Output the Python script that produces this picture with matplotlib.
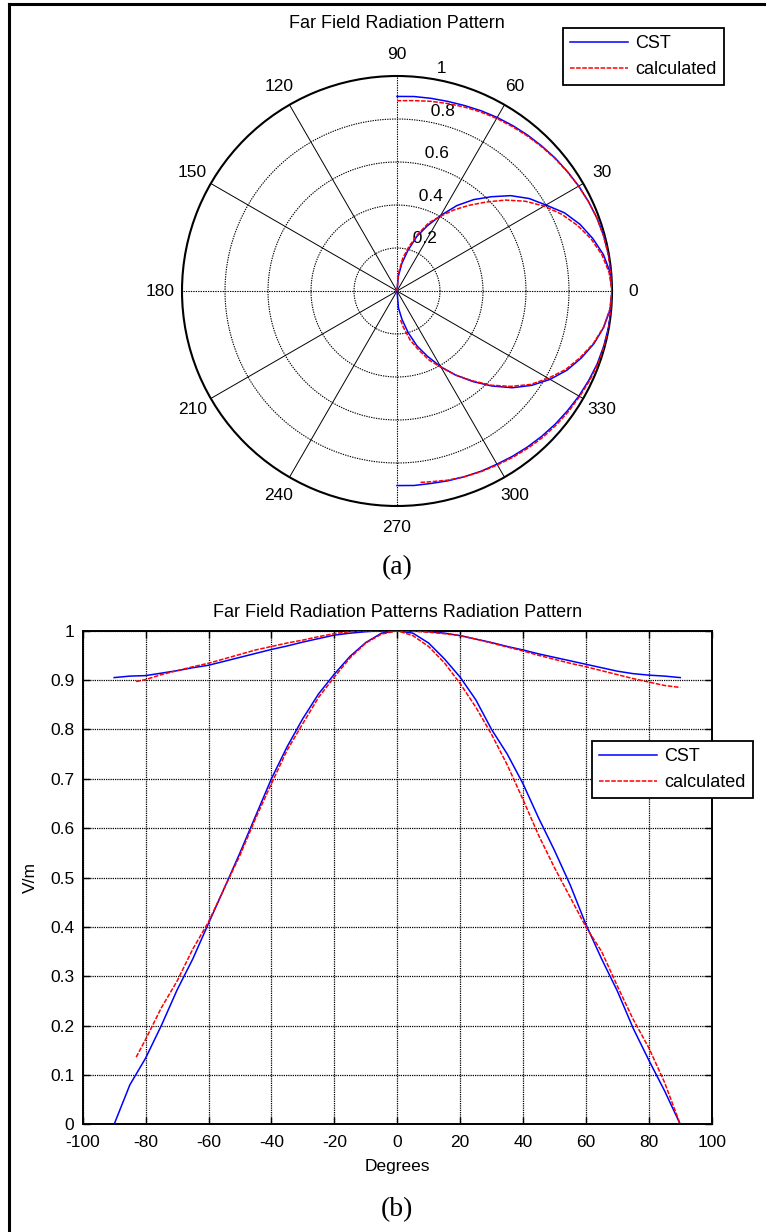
import numpy as np
import matplotlib
matplotlib.use("Agg")
import matplotlib.pyplot as plt
from matplotlib.lines import Line2D

plt.rcParams['font.family'] = ['Liberation Sans', 'DejaVu Sans']

# ---------------- data ----------------
deg_cst = list(range(-90, 91, 5))
cst_top = [0.905, 0.908, 0.909, 0.914, 0.919, 0.925, 0.930, 0.938, 0.946, 0.954,
           0.962, 0.969, 0.977, 0.984, 0.991, 0.995, 0.998, 1.000, 1.000, 1.000,
           0.998, 0.995, 0.990, 0.983, 0.976, 0.968, 0.961, 0.953, 0.946, 0.939,
           0.932, 0.925, 0.918, 0.913, 0.910, 0.908, 0.905]
cst_main = [0.0, 0.08, 0.134, 0.20, 0.272, 0.335, 0.407, 0.478, 0.55, 0.625,
            0.70, 0.765, 0.822, 0.872, 0.912, 0.948, 0.976, 0.995, 1.0, 0.995,
            0.975, 0.943, 0.906, 0.86, 0.80, 0.75, 0.69, 0.62, 0.555, 0.485,
            0.405, 0.335, 0.27, 0.195, 0.13, 0.068, 0.0]

deg_calc = [-83] + list(range(-80, 91, 5))
calc_top = [0.897, 0.901, 0.911, 0.919, 0.927, 0.934, 0.943, 0.952, 0.961, 0.968,
            0.975, 0.981, 0.988, 0.994, 0.998, 1.000, 1.000, 1.000, 0.999, 0.997,
            0.994, 0.990, 0.983, 0.975, 0.967, 0.959, 0.950, 0.942, 0.934, 0.927,
            0.919, 0.911, 0.903, 0.896, 0.889, 0.885]
calc_main = [0.136, 0.172, 0.236, 0.29, 0.355, 0.41, 0.478, 0.545, 0.62, 0.69,
             0.758, 0.812, 0.865, 0.906, 0.945, 0.975, 0.993, 1.0, 0.99, 0.968,
             0.935, 0.893, 0.845, 0.79, 0.728, 0.658, 0.585, 0.52, 0.46, 0.40,
             0.35, 0.28, 0.213, 0.155, 0.085, 0.0]

theta_labels = [0, 30, 60, 90, 120, 150, 180, 210, 240, 270, 300, 330]
r_ticks = [0.2, 0.4, 0.6, 0.8, 1.0]
r_tick_labels = ['0.2', '0.4', '0.6', '0.8', '1']
x_ticks = list(range(-100, 101, 20))
y_ticks = [0, 0.1, 0.2, 0.3, 0.4, 0.5, 0.6, 0.7, 0.8, 0.9, 1.0]
y_tick_labels = ['0', '0.1', '0.2', '0.3', '0.4', '0.5', '0.6', '0.7', '0.8', '0.9', '1']

W, H = 766, 1232
fig = plt.figure(figsize=(W / 100, H / 100), dpi=100)

FS = 12.5
FST = 13
FSL = 13
blue = '#0000FF'
red = '#FF0000'
dash = (0, (3, 1))

# ---------------- polar plot ----------------
cx, cy, R = 397, 291, 215
axp = fig.add_axes([(cx - R) / W, 1 - (cy + R) / H, 2 * R / W, 2 * R / H], projection='polar')
axp.set_ylim(0, 1)
axp.grid(False)
axp.set_xticks([])
axp.set_yticks([])
axp.spines['polar'].set_linewidth(1.5)
axp.spines['polar'].set_color('k')

tt = np.linspace(0, 2 * np.pi, 361)
for r in r_ticks[:-1]:
    axp.plot(tt, np.full_like(tt, r), color='k', lw=0.8, ls=(0, (1.2, 1.0)), zorder=1)
for a in range(0, 360, 30):
    th = np.deg2rad(a)
    if a % 90 == 0:
        axp.plot([th, th], [0, 1], color='k', lw=0.8, ls=(0, (1.2, 1.0)), zorder=1)
    else:
        axp.plot([th, th], [0, 1], color='k', lw=0.7, zorder=1)

for a in theta_labels:
    axp.text(np.deg2rad(a), 1.1, str(a), ha='center', va='center', fontsize=FS)
for r, lab in zip(r_ticks, r_tick_labels):
    axp.text(np.deg2rad(82), r + 0.01, '  ' + lab, ha='left', va='bottom', fontsize=FS)

th_c = np.deg2rad(deg_cst)
th_k = np.deg2rad(deg_calc)
l1, = axp.plot(th_c, cst_top, color=blue, lw=1.1, label='CST', zorder=3)
axp.plot(th_c, cst_main, color=blue, lw=1.1, zorder=3)
l2, = axp.plot(th_k, calc_top, color=red, lw=1.1, ls=dash, label='calculated', zorder=4)
axp.plot(th_k, calc_main, color=red, lw=1.1, ls=dash, zorder=4)

leg_kw = dict(fontsize=FSL, frameon=True, fancybox=False, edgecolor='k', framealpha=1,
              handlelength=3.2, handletextpad=0.4, borderpad=0.4, labelspacing=0.5,
              borderaxespad=0, loc='upper left')
lg1 = fig.legend([l1, l2], ['CST', 'calculated'], bbox_to_anchor=(563 / W, 1 - 28 / H), **leg_kw)
lg1.get_frame().set_linewidth(1.3)

fig.text(cx / W, 1 - 23 / H, 'Far Field Radiation Pattern', ha='center', va='center', fontsize=FST)
fig.text(cx / W, 1 - 568 / H, '(a)', ha='center', va='center', fontsize=20,
         family=['Liberation Serif', 'DejaVu Serif'])

# ---------------- cartesian plot ----------------
L, Rr, T, B = 82.7, 711.7, 630.7, 1124.3
ax = fig.add_axes([L / W, 1 - B / H, (Rr - L) / W, (B - T) / H])
ax.plot(deg_cst, cst_top, color=blue, lw=1.1, zorder=3)
ln1, = ax.plot(deg_cst, cst_main, color=blue, lw=1.1, zorder=3)
ax.plot(deg_calc, calc_top, color=red, lw=1.1, ls=dash, zorder=4)
ln2, = ax.plot(deg_calc, calc_main, color=red, lw=1.1, ls=dash, zorder=4)
ax.set_xlim(-100, 100)
ax.set_ylim(0, 1)
ax.set_xticks(x_ticks)
ax.set_xticklabels([str(v) for v in x_ticks])
ax.set_yticks(y_ticks)
ax.set_yticklabels(y_tick_labels)
ax.tick_params(axis='both', direction='in', length=5, width=1.0, top=True, right=True,
               labelsize=FS, colors='k')
ax.tick_params(axis='x', pad=8)
ax.tick_params(axis='y', pad=6)
ax.grid(True, color='k', lw=0.9, ls=(0, (1, 0.8)))
for s in ax.spines.values():
    s.set_linewidth(1.4)
ax.set_xlabel('Degrees', fontsize=FS, labelpad=6)
ax.set_ylabel('V/m', fontsize=FS, labelpad=9)
ax.set_title('Far Field Radiation Patterns Radiation Pattern', fontsize=FST, pad=10)

lg2 = fig.legend([ln1, ln2], ['CST', 'calculated'], bbox_to_anchor=(592 / W, 1 - 741 / H), **leg_kw)
lg2.get_frame().set_linewidth(1.3)

fig.text(cx / W, 1 - 1210 / H, '(b)', ha='center', va='center', fontsize=20,
         family=['Liberation Serif', 'DejaVu Serif'])

# outer frame (left and top)
fig.add_artist(Line2D([8.5 / W, 8.5 / W], [0, 1 - 4 / H], transform=fig.transFigure, color='k', lw=2.2))
fig.add_artist(Line2D([8.5 / W, 1], [1 - 4 / H, 1 - 4 / H], transform=fig.transFigure, color='k', lw=2.2))

fig.savefig('out.png', dpi=100)
